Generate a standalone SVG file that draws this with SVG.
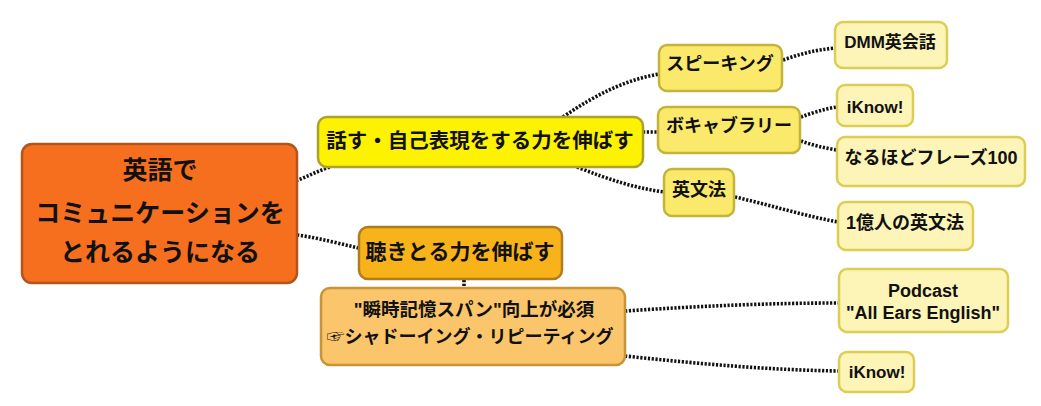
<svg xmlns="http://www.w3.org/2000/svg" width="1041" height="406" viewBox="0 0 1041 406">
<style>
text{font-family:"Liberation Sans","Noto Sans CJK JP",sans-serif;font-weight:bold;fill:#111;text-anchor:middle}
.c{fill:none;stroke:#111;stroke-width:3.6;stroke-dasharray:2.2 1.6}
.root{fill:#f56f1f;stroke:#b3541a;stroke-width:2.5}
.l1{fill:#fdf200;stroke:#aaa22c;stroke-width:2.5}
.l2{fill:#fbe96b;stroke:#c4b43a;stroke-width:2.5}
.l3{fill:#fdf4b8;stroke:#dccd55;stroke-width:2.5}
.o1{fill:#f8b31b;stroke:#b07c1d;stroke-width:2.5}
.o2{fill:#fbc66b;stroke:#c89435;stroke-width:2.5}
</style>
<rect width="1041" height="406" fill="#fff"/>
<g id="connectors">
<path class="c" d="M296,181 C308,176 318,171 330,167"/>
<path class="c" d="M297,235 C320,238 340,244 359,248"/>
<path class="c" d="M563,117 C595,95 625,80 659,74"/>
<path class="c" d="M643,132 L658,132"/>
<path class="c" d="M577,167 C610,180 635,188 664,192"/>
<path class="c" d="M783,60 C800,54 815,50 835,48"/>
<path class="c" d="M801,117 C812,113 824,109 837,107"/>
<path class="c" d="M801,141 C812,145 824,148 837,150"/>
<path class="c" d="M735,197 C770,205 805,216 838,222"/>
<path class="c" d="M464,280 L464,288"/>
<path class="c" d="M625,311 C700,306 770,303 839,303"/>
<path class="c" d="M625,356 C700,364 770,370 839,371"/>
</g>
<g id="root">
<rect class="root" x="22" y="144" width="275" height="139" rx="10"/>
<text x="160" y="179" font-size="25">英語で</text>
<text x="160" y="222" font-size="25">コミュニケーションを</text>
<text x="160" y="261" font-size="25">とれるようになる</text>
</g>
<g id="speak">
<rect class="l1" x="318" y="117" width="325" height="50" rx="9"/>
<text x="480" y="148" font-size="20.5">話す・自己表現をする力を伸ばす</text>
</g>
<g id="speaking">
<rect class="l2" x="659" y="45" width="123" height="46" rx="8"/>
<text x="720" y="70" font-size="18">スピーキング</text>
</g>
<g id="vocab">
<rect class="l2" x="658" y="107" width="142" height="46" rx="8"/>
<text x="729" y="132" font-size="18">ボキャブラリー</text>
</g>
<g id="grammar">
<rect class="l2" x="664" y="169" width="70" height="47" rx="8"/>
<text x="699" y="196" font-size="18">英文法</text>
</g>
<g id="dmm">
<rect class="l3" x="835" y="22" width="112" height="46" rx="8"/>
<text x="890" y="48" font-size="17">DMM英会話</text>
</g>
<g id="iknow1">
<rect class="l3" x="837" y="85" width="76" height="41" rx="8"/>
<text x="875" y="113" font-size="17">iKnow!</text>
</g>
<g id="naruhodo">
<rect class="l3" x="837" y="137" width="188" height="49" rx="8"/>
<text x="931" y="164" font-size="18">なるほどフレーズ100</text>
</g>
<g id="ichioku">
<rect class="l3" x="838" y="202" width="135" height="48" rx="8"/>
<text x="905" y="229" font-size="18">1億人の英文法</text>
</g>
<g id="listen">
<rect class="o1" x="359" y="227" width="203" height="52" rx="9"/>
<text x="460" y="259" font-size="21">聴きとる力を伸ばす</text>
</g>
<g id="shadowing">
<rect class="o2" x="321" y="288" width="304" height="77" rx="9"/>
<text x="474" y="316" font-size="18.5">"瞬時記憶スパン"向上が必須</text>
<text x="470" y="343" font-size="18">☞シャドーイング・リピーティング</text>
</g>
<g id="podcast">
<rect class="l3" x="839" y="269" width="169" height="63" rx="8"/>
<text x="923" y="297" font-size="18">Podcast</text>
<text x="923" y="319" font-size="18">"All Ears English"</text>
</g>
<g id="iknow2">
<rect class="l3" x="839" y="352" width="75" height="40" rx="8"/>
<text x="877" y="378" font-size="17">iKnow!</text>
</g>
</svg>
